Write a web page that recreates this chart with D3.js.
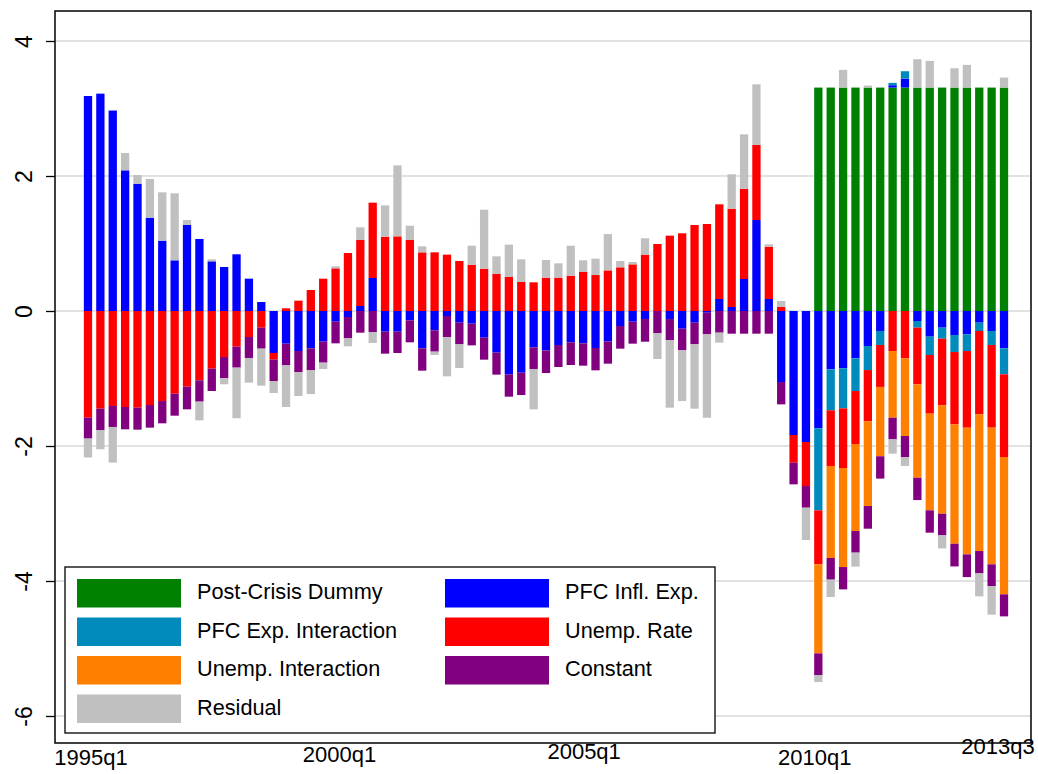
<!DOCTYPE html>
<html>
<head>
<meta charset="utf-8">
<script src="https://cdn.jsdelivr.net/npm/d3@7"></script>
<style>
  body { margin: 0; background: #fff; }
  svg { display: block; }
  text { font-family: "Liberation Sans", Arial, Helvetica, sans-serif; fill: #000; }
</style>
</head>
<body>
<svg id="chart" width="1038" height="774"></svg>
<script>
// ---------- DATA ----------
const quarters = [];
d3.range(1995, 2014).forEach(y => [1, 2, 3, 4].forEach(q => {
  if (!(y === 2013 && q > 3)) quarters.push(y + "q" + q);
}));

const tickLabels = ["1995q1", "2000q1", "2005q1", "2010q1", "2013q3"];
const yTicks = [-6, -4, -2, 0, 2, 4];

const postCrisisDummy = [
  0,0,0,0,0,0,0,0,0,0, 0,0,0,0,0,0,0,0,0,0,
  0,0,0,0,0,0,0,0,0,0, 0,0,0,0,0,0,0,0,0,0,
  0,0,0,0,0,0,0,0,0,0, 0,0,0,0,0,0,0,0,0,3.31,
  3.31,3.31,3.31,3.31,3.31,3.31,3.31,3.31,3.31,3.31, 3.31,3.31,3.31,3.31,3.31
];
const pfcInflExp = [
  3.185,3.22,2.97,2.084,1.886,1.383,1.042,0.751,1.274,1.067,
  0.736,0.652,0.84,0.479,0.133,-0.622,-0.484,-0.593,-0.553,-0.454,
  -0.158,-0.089,0.074,0.489,-0.306,-0.306,-0.138,-0.553,-0.286,-0.074,
  -0.173,-0.188,-0.395,-0.617,-0.938,-0.914,-0.538,-0.583,-0.504,-0.464,
  -0.479,-0.548,-0.449,-0.222,-0.158,-0.119,0,-0.119,-0.262,-0.173,
  -0.025,0.178,0.059,0.474,1.348,0.178,-1.052,-1.837,-1.941,-1.738,
  -0.864,-0.849,-0.701,-0.519,-0.296,0.035,0.133,-0.148,-0.38,-0.247,
  -0.356,-0.346,-0.173,-0.296,-0.553
];
const pfcExpInteraction = [
  0,0,0,0,0,0,0,0,0,0, 0,0,0,0,0,0,0,0,0,0,
  0,0,0,0,0,0,0,0,0,0, 0,0,0,0,0,0,0,0,0,0,
  0,0,0,0,0,0,0,0,0,0, 0,0,0,0,0,0,0,0,0,-1.215,
  -0.607,-0.593,-0.484,-0.356,-0.207,0.035,0.109,-0.099,-0.272,-0.163,
  -0.252,-0.247,-0.123,-0.207,-0.385
];
const unempRate = [
  -1.58,-1.447,-1.407,-1.422,-1.432,-1.393,-1.333,-1.225,-1.121,-1.027,
  -0.854,-0.681,-0.528,-0.385,-0.247,-0.099,0.04,0.153,0.311,0.479,
  0.632,0.859,0.978,1.116,1.101,1.106,1.052,0.869,0.869,0.835,
  0.741,0.686,0.627,0.548,0.504,0.43,0.425,0.494,0.494,0.523,
  0.578,0.533,0.602,0.647,0.691,0.835,0.993,1.116,1.151,1.274,
  1.289,1.402,1.457,1.338,1.111,0.775,0.059,-0.41,-0.652,-0.8,
  -0.825,-0.884,-0.785,-0.76,-0.622,-0.593,-0.701,-0.84,-0.869,-0.988,
  -1.072,-1.136,-1.235,-1.225,-1.225
];
const unempInteraction = [
  0,0,0,0,0,0,0,0,0,0, 0,0,0,0,0,0,0,0,0,0,
  0,0,0,0,0,0,0,0,0,0, 0,0,0,0,0,0,0,0,0,0,
  0,0,0,0,0,0,0,0,0,0, 0,0,0,0,0,0,0,0,0,-1.319,
  -1.363,-1.467,-1.289,-1.254,-1.027,-0.988,-1.151,-1.383,-1.432,-1.605,
  -1.768,-1.877,-2.025,-2.025,-2.035
];
const constant = [
  -0.31,-0.316,-0.311,-0.331,-0.326,-0.335,-0.331,-0.326,-0.336,-0.316,
  -0.331,-0.316,-0.311,-0.311,-0.311,-0.316,-0.321,-0.311,-0.321,-0.311,
  -0.321,-0.316,-0.321,-0.311,-0.326,-0.316,-0.326,-0.331,-0.316,-0.311,
  -0.321,-0.321,-0.326,-0.326,-0.331,-0.331,-0.321,-0.336,-0.326,-0.336,
  -0.331,-0.331,-0.331,-0.336,-0.326,-0.336,-0.331,-0.311,-0.321,-0.321,
  -0.321,-0.321,-0.336,-0.336,-0.336,-0.336,-0.331,-0.321,-0.321,-0.321,
  -0.321,-0.331,-0.321,-0.336,-0.331,-0.321,-0.311,-0.331,-0.331,-0.321,
  -0.336,-0.336,-0.331,-0.321,-0.326
];
const residual = [
  -0.28,-0.286,-0.528,0.257,0.128,0.573,0.716,0.993,0.074,-0.277,
  0.03,-0.089,-0.75,-0.366,-0.548,-0.178,-0.617,-0.356,-0.356,-0.094,
  0.03,-0.119,0.188,-0.163,0.464,1.052,0.212,0.089,-0.049,-0.583,
  -0.351,0.281,0.874,0.262,0.479,0.336,-0.598,0.262,0.212,0.444,
  0.173,0.242,0.538,0.094,0.035,0.242,-0.38,-1.002,-0.751,-0.953,
  -1.235,-0.148,0.509,0.805,0.899,0.035,0.089,0,-0.479,-0.104,
  -0.257,0.262,-0.207,0.03,0,-0.212,-0.133,0.42,0.395,-0.193,
  0.286,0.336,-0.341,-0.425,0.148
];

// ---------- SERIES META ----------
const keys = ["dummy", "pfcInfl", "pfcInter", "unemp", "unempInter", "constant", "residual"];
const seriesValues = {
  dummy: postCrisisDummy, pfcInfl: pfcInflExp, pfcInter: pfcExpInteraction,
  unemp: unempRate, unempInter: unempInteraction, constant: constant, residual: residual
};
const seriesNames = {
  dummy: "Post-Crisis Dummy", pfcInfl: "PFC Infl. Exp.", pfcInter: "PFC Exp. Interaction",
  unemp: "Unemp. Rate", unempInter: "Unemp. Interaction", constant: "Constant", residual: "Residual"
};
const seriesColors = {
  dummy: "#008000", pfcInfl: "#0000ff", pfcInter: "#008bbc",
  unemp: "#ff0000", unempInter: "#ff8000", constant: "#800080", residual: "#c0c0c0"
};
const legendOrder = ["dummy", "pfcInfl", "pfcInter", "unemp", "unempInter", "constant", "residual"];

const table = quarters.map((q, i) => {
  const row = { q };
  keys.forEach(k => row[k] = seriesValues[k][i]);
  return row;
});

// ---------- LAYOUT ----------
const svg = d3.select("#chart");
const frame = { left: 55, right: 1031, top: 11, bottom: 743 };
const FONT = '"Liberation Sans", Arial, sans-serif';

const x = d3.scaleBand().domain(quarters).range([81.8, 1010.2])
  .paddingInner(0.33).paddingOuter(0.165);
const y = d3.scaleLinear().domain([-6, 4]).range([716, 41]);

// gridlines
svg.append("g").selectAll("line").data(yTicks).join("line")
  .attr("x1", frame.left).attr("x2", frame.right)
  .attr("y1", d => y(d)).attr("y2", d => y(d))
  .attr("stroke", "#e2e2e2").attr("stroke-width", 2);

// bars
const stacked = d3.stack().keys(keys).offset(d3.stackOffsetDiverging)(table);
svg.append("g").selectAll("g").data(stacked).join("g")
  .attr("fill", d => seriesColors[d.key])
  .selectAll("rect").data(d => d.filter(s => s[1] !== s[0])).join("rect")
  .attr("x", d => x(d.data.q))
  .attr("width", x.bandwidth())
  .attr("y", d => y(Math.max(d[0], d[1])))
  .attr("height", d => Math.abs(y(d[0]) - y(d[1])));

// frame
svg.append("rect")
  .attr("x", frame.left).attr("y", frame.top)
  .attr("width", frame.right - frame.left).attr("height", frame.bottom - frame.top)
  .attr("fill", "none").attr("stroke", "#000").attr("stroke-width", 1.5);

// y axis (ticks + rotated labels)
const yAxis = d3.axisLeft(y).tickValues(yTicks).tickSize(9).tickPadding(0).tickFormat(d => String(d));
const gy = svg.append("g").attr("transform", `translate(${frame.left},0)`).call(yAxis);
gy.select(".domain").remove();
gy.selectAll(".tick line").attr("stroke", "#000").attr("stroke-width", 1.3);
gy.selectAll(".tick text")
  .attr("x", null).attr("dy", null)
  .attr("transform", `translate(-23,0) rotate(-90)`)
  .attr("text-anchor", "middle")
  .style("font-size", "23px")
  .style("font-family", FONT);

// x axis labels
const labelNudge = { "1995q1": [3, 5], "2000q1": [4, 2], "2005q1": [1, -1], "2010q1": [-16, 5], "2013q3": [-6, -6] };
const xAxis = d3.axisBottom(x).tickValues(tickLabels).tickSize(0).tickPadding(0);
const gx = svg.append("g").attr("transform", `translate(0,${frame.bottom})`).call(xAxis);
gx.select(".domain").remove();
gx.selectAll(".tick text")
  .attr("dy", null).attr("y", 0)
  .attr("transform", d => `translate(${labelNudge[d][0]},${11 + labelNudge[d][1]})`)
  .attr("dominant-baseline", "middle")
  .style("font-size", "22px")
  .style("font-family", FONT);

// legend
const lg = svg.append("g");
lg.append("rect").attr("x", 65).attr("y", 567).attr("width", 650).attr("height", 166)
  .attr("fill", "#fff").attr("stroke", "#000").attr("stroke-width", 1.3);
const item = lg.selectAll("g.item").data(legendOrder).join("g").attr("class", "item")
  .attr("transform", (d, i) => `translate(${i % 2 === 0 ? 77 : 445},${579 + Math.floor(i / 2) * 38.5})`);
item.append("rect").attr("width", 104).attr("height", 28.5).attr("fill", d => seriesColors[d]);
item.append("text").attr("x", 120).attr("y", 14.5).attr("dominant-baseline", "middle")
  .style("font-size", "21.7px").text(d => seriesNames[d]);
</script>
</body>
</html>
